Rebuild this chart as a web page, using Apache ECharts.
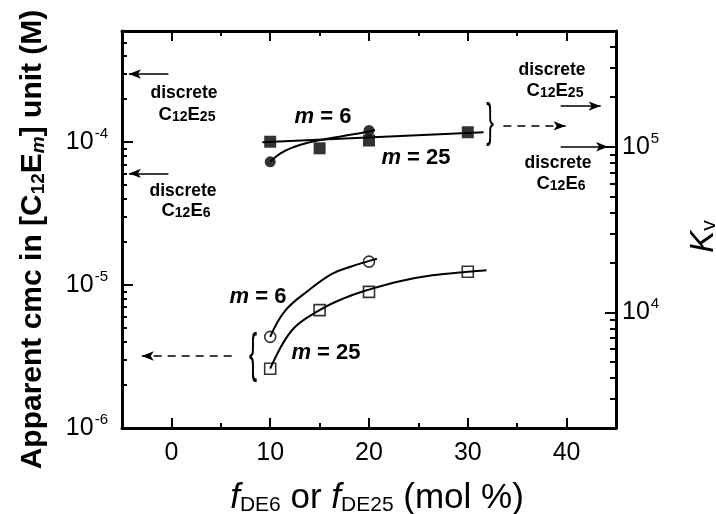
<!DOCTYPE html>
<html><head><meta charset="utf-8">
<script src="https://cdn.jsdelivr.net/npm/echarts@6/dist/echarts.min.js"></script>
<style>html,body{margin:0;padding:0;background:#fff}#c{width:716px;height:514px}</style>
</head><body><div id="c"></div>
<script>
// ---- tick values ----
const xTicksMajor = [0, 10, 20, 30, 40];
const xTicksMinor = [5, 15, 25, 35];
const cmcTicksMajor = [1e-6, 1e-5, 1e-4];
const cmcTicksMinor = [2e-6, 3e-6, 4e-6, 5e-6, 6e-6, 7e-6, 8e-6, 9e-6,
                       2e-5, 3e-5, 4e-5, 5e-5, 6e-5, 7e-5, 8e-5, 9e-5,
                       2e-4, 3e-4, 4e-4, 5e-4];
const kvTicksMajor = [1e4, 1e5];
const kvTicksMinor = [3e3, 4e3, 5e3, 6e3, 7e3, 8e3, 9e3,
                      2e4, 3e4, 4e4, 5e4, 6e4, 7e4, 8e4, 9e4,
                      2e5, 3e5, 4e5];

// ---- measured points (open symbols: apparent cmc, left axis) ----
const fM6Open = [10, 20];
const cmcM6Open = [4.34e-6, 1.46e-5];
const fM25Open = [10, 15, 20, 30];
const cmcM25Open = [2.6e-6, 6.68e-6, 8.97e-6, 1.24e-5];

// fitted curves
const fM6CmcCurve = [10, 11.5, 13.9, 16.25, 18.2, 19.8, 20.8];
const cmcM6CmcCurve = [4.34e-6, 6.6e-6, 9.2e-6, 1.2e-5, 1.35e-5, 1.46e-5, 1.53e-5];
const fM25CmcCurve = [10, 12.2, 15, 17.5, 20, 23, 26.4, 30, 31.9];
const cmcM25CmcCurve = [2.6e-6, 4.83e-6, 6.68e-6, 8.1e-6, 9.3e-6, 1.06e-5, 1.17e-5, 1.24e-5, 1.27e-5];

// ---- measured points (filled symbols: Kv, right axis) ----
const fM6Filled = [10, 20];
const kvM6Filled = [8.11e4, 1.254e5];
const fM25Filled = [10, 15, 20, 30];
const kvM25Filled = [1.072e5, 0.978e5, 1.09e5, 1.223e5];

const fM6KvCurve = [10, 11, 12.4, 13.7, 15.4, 17.4, 19.5, 20.6];
const kvM6KvCurve = [8.11e4, 9.09e4, 9.96e4, 1.053e5, 1.106e5, 1.161e5, 1.219e5, 1.262e5];
const fM25KvLine = [9.2, 31.6];
const kvM25KvLine = [1.063e5, 1.223e5];

// ---- annotation arrows (data coords) ----
const cmcDiscreteE25 = 3.0e-4;
const cmcDiscreteE6 = 6.05e-5;
const kvDiscreteE25 = 1.76e5;
const kvDiscreteE6 = 1.0e5;
const cmcArrowLevel = 3.19e-6;
const kvArrowLevel = 1.335e5;

const FONT = '"Liberation Sans", Arial, Helvetica, sans-serif';
const zip = (a, b) => a.map((v, i) => [v, b[i]]);
const blk = '#000';

function expLabel(v) {
  const e = Math.round(Math.log10(v));
  if (Math.abs(v / Math.pow(10, e) - 1) > 1e-6) return '';
  return '{b|10}{e|' + (e < 0 ? '-' + (-e) : String(e)) + '}';
}
const expRich = {
  b: {fontSize: 25, fontFamily: FONT, color: blk, lineHeight: 25, verticalAlign: 'bottom'},
  e: {fontSize: 15, fontFamily: FONT, color: blk, lineHeight: 15, verticalAlign: 'bottom', padding: [0, 0, 13, 1]}
};

const chart = echarts.init(document.getElementById('c'));
const GRID = {left: 122, right: 100, top: 31, bottom: 86, outerBoundsMode: 'none', containLabel: false};

// label/name axes (main grid, carries the series)
function xLabelAxis(extra) {
  return Object.assign({
    type: 'value', gridIndex: 0, position: 'bottom', min: -5, max: 45,
    axisLine: {show: false, onZero: false}, axisTick: {show: false},
    axisLabel: {show: true, customValues: xTicksMajor, margin: 13, fontSize: 25, fontFamily: FONT, color: blk},
    splitLine: {show: false}
  }, extra);
}
function yLabelAxis(pos, min, max, ticks, margin, extra) {
  return Object.assign({
    type: 'log', logBase: 10, gridIndex: 0, position: pos, min: min, max: max,
    axisLine: {show: false, onZero: false}, axisTick: {show: false},
    axisLabel: {show: true, customValues: ticks, margin: margin, formatter: expLabel, rich: expRich},
    splitLine: {show: false}
  }, extra);
}
// tick-only axes (grids 1 and 2)
function xTickAxis(grid, pos, ticks, len, showLine) {
  return {
    type: 'value', gridIndex: grid, position: pos, min: -5, max: 45,
    axisLine: {show: showLine, onZero: false, lineStyle: {color: blk, width: 3}},
    axisTick: {show: true, inside: true, length: len, customValues: ticks, lineStyle: {color: blk, width: 2}},
    axisLabel: {show: false}, splitLine: {show: false}
  };
}
function yTickAxis(grid, pos, min, max, ticks, len, showLine) {
  return {
    type: 'log', logBase: 10, gridIndex: grid, position: pos, min: min, max: max,
    axisLine: {show: showLine, onZero: false, lineStyle: {color: blk, width: 3}},
    axisTick: {show: true, inside: true, length: len, customValues: ticks, lineStyle: {color: blk, width: 2}},
    axisLabel: {show: false}, splitLine: {show: false}
  };
}

const option = {
  animation: false,
  backgroundColor: '#fff',
  grid: [Object.assign({}, GRID), Object.assign({}, GRID), Object.assign({}, GRID)],
  xAxis: [
    xLabelAxis({
      name: '{i|f}{s|DE6}{n| or }{i|f}{s|DE25}{n| (mol %)}',
      nameLocation: 'middle', nameGap: 43,
      nameTextStyle: {
        padding: [0, 0, 0, 16],
        rich: {
          i: {fontSize: 35, fontFamily: FONT, fontStyle: 'italic', color: blk, lineHeight: 45, verticalAlign: 'bottom'},
          n: {fontSize: 35, fontFamily: FONT, color: blk, lineHeight: 45, verticalAlign: 'bottom'},
          s: {fontSize: 21, fontFamily: FONT, color: blk, lineHeight: 21, verticalAlign: 'bottom'}
        }
      }
    }),
    xTickAxis(1, 'bottom', xTicksMajor, 10, true),
    xTickAxis(1, 'top', xTicksMajor, 10, true),
    xTickAxis(2, 'bottom', xTicksMinor, 5, false),
    xTickAxis(2, 'top', xTicksMinor, 5, false)
  ],
  yAxis: [
    yLabelAxis('left', 1e-6, 6e-4, cmcTicksMajor, 14, {
      name: '{n|Apparent cmc in [C}{s|12}{n|E}{si|m}{n|] unit (M)}',
      nameLocation: 'middle', nameGap: 74,
      nameTextStyle: {
        padding: [0, 20, 0, 0],
        rich: {
          n: {fontSize: 30, fontWeight: 'bold', fontFamily: FONT, color: blk, lineHeight: 36, verticalAlign: 'bottom'},
          s: {fontSize: 19, fontWeight: 'bold', fontFamily: FONT, color: blk, lineHeight: 19, verticalAlign: 'bottom'},
          si: {fontSize: 19, fontWeight: 'bold', fontStyle: 'italic', fontFamily: FONT, color: blk, lineHeight: 19, verticalAlign: 'bottom'}
        }
      }
    }),
    yLabelAxis('right', 2e3, 5e5, kvTicksMajor, 6, {
      name: '{k|K}{v|v}',
      nameLocation: 'middle', nameGap: 64,
      nameTextStyle: {
        padding: [0, 14, 0, 0],
        rich: {
          k: {fontSize: 33, fontStyle: 'italic', fontFamily: FONT, color: blk, lineHeight: 40, verticalAlign: 'bottom'},
          v: {fontSize: 21, fontFamily: FONT, color: blk, lineHeight: 21, verticalAlign: 'bottom'}
        }
      }
    }),
    yTickAxis(1, 'left', 1e-6, 6e-4, cmcTicksMajor, 11, true),
    yTickAxis(1, 'right', 2e3, 5e5, kvTicksMajor, 11, true),
    yTickAxis(2, 'left', 1e-6, 6e-4, cmcTicksMinor, 5, false),
    yTickAxis(2, 'right', 2e3, 5e5, kvTicksMinor, 6, false)
  ],
  series: [
    {type: 'line', xAxisIndex: 0, yAxisIndex: 0, data: zip(fM6CmcCurve, cmcM6CmcCurve), smooth: 0.4,
     symbol: 'none', lineStyle: {color: blk, width: 2}, z: 2},
    {type: 'line', xAxisIndex: 0, yAxisIndex: 0, data: zip(fM25CmcCurve, cmcM25CmcCurve), smooth: 0.4,
     symbol: 'none', lineStyle: {color: blk, width: 2}, z: 2},
    {type: 'line', xAxisIndex: 0, yAxisIndex: 1, data: zip(fM6KvCurve, kvM6KvCurve), smooth: 0.4,
     symbol: 'none', lineStyle: {color: blk, width: 2}, z: 2},
    {type: 'line', xAxisIndex: 0, yAxisIndex: 1, data: zip(fM25KvLine, kvM25KvLine), smooth: false,
     symbol: 'none', lineStyle: {color: blk, width: 2}, z: 2},
    {type: 'scatter', xAxisIndex: 0, yAxisIndex: 0, data: zip(fM6Open, cmcM6Open), symbol: 'circle', symbolSize: 11,
     itemStyle: {color: 'rgba(0,0,0,0)', borderColor: blk, borderWidth: 1.6}, z: 3,
     markLine: {silent: true, symbol: ['none', 'arrow'], symbolSize: [7, 12], label: {show: false},
       lineStyle: {color: blk, width: 1.6, type: 'solid'},
       data: [
         [{coord: [-0.3, cmcDiscreteE25]}, {coord: [-4.3, cmcDiscreteE25]}],
         [{coord: [-0.3, cmcDiscreteE6]}, {coord: [-4.3, cmcDiscreteE6]}]
       ]}},
    {type: 'scatter', xAxisIndex: 0, yAxisIndex: 0, data: zip(fM25Open, cmcM25Open), symbol: 'rect', symbolSize: 11,
     itemStyle: {color: 'rgba(0,0,0,0)', borderColor: blk, borderWidth: 1.6}, z: 3,
     markLine: {silent: true, symbol: ['none', 'arrow'], symbolSize: [7, 12], label: {show: false},
       lineStyle: {color: blk, width: 1.6, type: [8, 6]},
       data: [[{coord: [6.1, cmcArrowLevel]}, {coord: [-3.0, cmcArrowLevel]}]]}},
    {type: 'scatter', xAxisIndex: 0, yAxisIndex: 1, data: zip(fM6Filled, kvM6Filled), symbol: 'circle', symbolSize: 11,
     itemStyle: {color: blk}, z: 3,
     markLine: {silent: true, symbol: ['none', 'arrow'], symbolSize: [7, 12], label: {show: false},
       lineStyle: {color: blk, width: 1.6, type: 'solid'},
       data: [
         [{coord: [39.4, kvDiscreteE25]}, {coord: [43.45, kvDiscreteE25]}],
         [{coord: [39.4, kvDiscreteE6]}, {coord: [44.2, kvDiscreteE6]}]
       ]}},
    {type: 'scatter', xAxisIndex: 0, yAxisIndex: 1, data: zip(fM25Filled, kvM25Filled), symbol: 'rect', symbolSize: 12,
     itemStyle: {color: blk}, z: 3,
     markLine: {silent: true, symbol: ['none', 'arrow'], symbolSize: [7, 12], label: {show: false},
       lineStyle: {color: blk, width: 1.6, type: [8, 6]},
       data: [[{coord: [33.6, kvArrowLevel]}, {coord: [39.9, kvArrowLevel]}]]}}
  ]
};

// annotation texts
const annRich = {
  d: {fontSize: 17.5, fontWeight: 'bold', fontFamily: FONT, fill: blk, color: blk},
  n: {fontSize: 18.5, fontWeight: 'bold', fontFamily: FONT, fill: blk, color: blk, lineHeight: 22, verticalAlign: 'bottom'},
  s: {fontSize: 14, fontWeight: 'bold', fontFamily: FONT, fill: blk, color: blk, lineHeight: 13, verticalAlign: 'bottom'}
};
const mRich = {
  i: {fontSize: 22, fontWeight: 'bold', fontStyle: 'italic', fontFamily: FONT, fill: blk, color: blk},
  n: {fontSize: 22, fontWeight: 'bold', fontFamily: FONT, fill: blk, color: blk}
};
function txt(x, y, text, rich) {
  return {type: 'text', x: x, y: y, z: 10, silent: true,
    style: {text: text, rich: rich, align: 'center', verticalAlign: 'middle', textAlign: 'center', textVerticalAlign: 'middle', fill: blk}};
}
option.graphic = [
  txt(184, 93, '{d|discrete}', annRich),
  txt(187, 113, '{n|C}{s|12}{n|E}{s|25}', annRich),
  txt(183, 191, '{d|discrete}', annRich),
  txt(186, 209, '{n|C}{s|12}{n|E}{s|6}', annRich),
  txt(552, 70, '{d|discrete}', annRich),
  txt(555, 89, '{n|C}{s|12}{n|E}{s|25}', annRich),
  txt(558, 163, '{d|discrete}', annRich),
  txt(561, 182, '{n|C}{s|12}{n|E}{s|6}', annRich),
  txt(323, 117, '{i|m}{n| = 6}', mRich),
  txt(416, 158, '{i|m}{n| = 25}', mRich),
  txt(258, 297, '{i|m}{n| = 6}', mRich),
  txt(326, 353, '{i|m}{n| = 25}', mRich),
  {type: 'text', x: 490, y: 123, scaleX: 0.5, z: 10, silent: true,
   style: {text: '}', font: '46px ' + FONT, fill: blk, align: 'center', verticalAlign: 'middle'}},
  {type: 'text', x: 253, y: 356, scaleX: 0.45, z: 10, silent: true,
   style: {text: '{', font: '54px ' + FONT, fill: blk, align: 'center', verticalAlign: 'middle'}}
];

chart.setOption(option);
</script>
</body></html>
